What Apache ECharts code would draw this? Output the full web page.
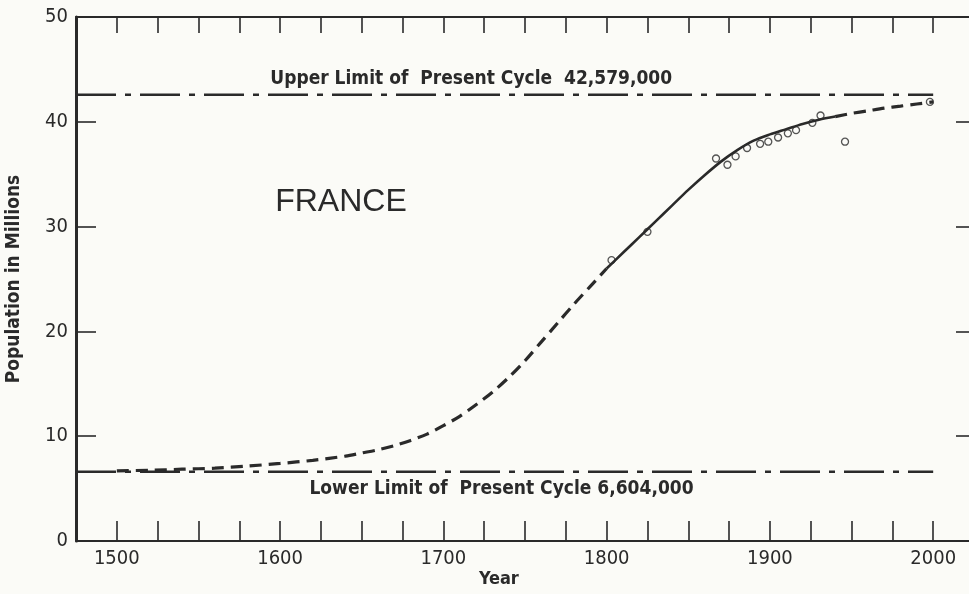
<!DOCTYPE html>
<html>
<head>
<meta charset="utf-8">
<script src="https://cdn.jsdelivr.net/npm/echarts@6/dist/echarts.min.js"></script>
<style>
  html, body { margin: 0; padding: 0; background: #fbfbf7; }
  #chart { width: 969px; height: 594px; }
</style>
</head>
<body>
<div id="chart"></div>
<script>
// Logistic population cycle for France, limits in millions
const upperLimit = 42.579;
const lowerLimit = 6.604;
const limitYears = [1475, 2000];

// Extrapolated (dashed) early part of the curve
const earlyYears = [1500, 1520, 1540, 1560, 1580, 1600, 1620, 1640, 1650, 1660, 1670, 1680, 1690,
                    1700, 1710, 1720, 1730, 1740, 1750, 1760, 1770, 1780, 1790, 1800];
const earlyPop   = [6.7, 6.75, 6.85, 6.95, 7.15, 7.4, 7.7, 8.1, 8.4, 8.7, 9.1, 9.6, 10.2,
                    11.0, 11.9, 13.0, 14.2, 15.6, 17.2, 19.0, 20.8, 22.6, 24.3, 26.0];

// Fitted (solid) part over the census period
const fittedYears = [1800, 1810, 1820, 1830, 1840, 1850, 1860, 1870, 1880, 1890, 1900, 1910, 1920, 1930, 1940];
const fittedPop   = [26.0, 27.5, 29.0, 30.5, 32.0, 33.5, 34.9, 36.2, 37.3, 38.2, 38.8, 39.3, 39.8, 40.2, 40.5];

// Extrapolated (dashed) late part
const lateYears = [1940, 1950, 1960, 1970, 1980, 1990, 2000];
const latePop   = [40.5, 40.8, 41.05, 41.3, 41.5, 41.7, 41.9];

// Census observations
const censusYears = [1803, 1825, 1867, 1874, 1879, 1886, 1894, 1899, 1905, 1911, 1916, 1926, 1931, 1946, 1998];
const censusPop   = [26.8, 29.5, 36.5, 35.9, 36.7, 37.5, 37.9, 38.1, 38.5, 38.9, 39.2, 39.9, 40.6, 38.1, 41.9];

const xTickLabels = ['1500', '1600', '1700', '1800', '1900', '2000'];
const yTickLabels = ['0', '10', '20', '30', '40', '50'];

const upperText = 'Upper Limit of  Present Cycle  42,579,000';
const lowerText = 'Lower Limit of  Present Cycle 6,604,000';
const countryText = 'FRANCE';
const xName = 'Year';
const yName = 'Population in Millions';

const FONT = "'DejaVu Sans Condensed', 'Liberation Sans', sans-serif";
const INK = '#2a2a2a';
const PAPER = '#fbfbf7';

const pairs = (xs, ys) => xs.map((x, i) => [x, ys[i]]);

const chart = echarts.init(document.getElementById('chart'), null, { renderer: 'canvas' });

const tickAxisX = (pos, len, showLabel) => ({
  type: 'value', position: pos, min: 1475, max: 2025, interval: 25,
  axisLine: { show: true, onZero: false, lineStyle: { color: INK, width: 2 } },
  axisTick: { show: true, inside: true, length: len, lineStyle: { color: INK, width: 1.6 } },
  axisLabel: {
    show: showLabel, margin: 8, color: INK, fontFamily: FONT, fontSize: 20,
    formatter: v => (xTickLabels.includes(String(v)) ? String(v) : '')
  },
  splitLine: { show: false }
});

const curveLine = (name, xs, ys, lineStyle) => ({
  name, type: 'line', data: pairs(xs, ys), smooth: 0.3,
  symbol: 'none', lineStyle
});

chart.setOption({
  backgroundColor: PAPER,
  animation: false,
  // plot box runs slightly past the right edge of the page
  grid: { left: 76, top: 17, width: 898, height: 524, containLabel: false, outerBoundsMode: 'none' },
  xAxis: [tickAxisX('bottom', 20, true), tickAxisX('top', 16, false)],
  yAxis: [
    {
      type: 'value', min: 0, max: 50, interval: 10, position: 'left',
      axisLine: { show: true, lineStyle: { color: INK, width: 3 } },
      axisTick: { show: true, inside: true, length: 20, lineStyle: { color: INK, width: 1.6 } },
      axisLabel: {
        margin: 8, color: INK, fontFamily: FONT, fontSize: 20,
        formatter: v => (yTickLabels.includes(String(v)) ? String(v) : '')
      },
      splitLine: { show: false },
      name: yName, nameLocation: 'middle', nameGap: 52, nameRotate: 90,
      nameTextStyle: { color: INK, fontFamily: FONT, fontSize: 19, fontWeight: 'bold' }
    },
    {
      type: 'value', min: 0, max: 50, interval: 10, position: 'right',
      axisLine: { show: true, lineStyle: { color: INK, width: 2 } },
      axisTick: { show: true, inside: true, length: 18, lineStyle: { color: INK, width: 1.6 } },
      axisLabel: { show: false },
      splitLine: { show: false }
    }
  ],
  series: [
    {
      name: 'upper', type: 'line', data: pairs(limitYears, [upperLimit, upperLimit]),
      symbol: 'none', lineStyle: { color: INK, width: 2.5, type: [40, 9, 6, 9] }
    },
    {
      name: 'lower', type: 'line', data: pairs(limitYears, [lowerLimit, lowerLimit]),
      symbol: 'none', lineStyle: { color: INK, width: 2.5, type: [40, 9, 6, 9] }
    },
    curveLine('early', earlyYears, earlyPop, { color: INK, width: 3.2, type: [12, 7] }),
    curveLine('fitted', fittedYears, fittedPop, { color: INK, width: 2.6, type: 'solid' }),
    curveLine('late', lateYears, latePop, { color: INK, width: 3.2, type: [12, 7] }),
    {
      name: 'census', type: 'scatter', data: pairs(censusYears, censusPop),
      symbol: 'circle', symbolSize: 7,
      itemStyle: { color: PAPER, borderColor: INK, borderWidth: 1.3 }
    }
  ]
});

// Text annotations anchored to data coordinates
const at = (x, y) => chart.convertToPixel({ xAxisIndex: 0, yAxisIndex: 0 }, [x, y]);
const pU = at(1594, upperLimit);
const pL = at(1618, lowerLimit);
const pF = at(1597, 32.3);
const pY = at(1734, 0);

chart.setOption({
  graphic: [
    { type: 'text', x: pU[0], y: pU[1] - 6,
      style: { text: upperText, fill: INK, font: "bold 19px " + FONT, textVerticalAlign: 'bottom' } },
    { type: 'text', x: pL[0], y: pL[1] + 8,
      style: { text: lowerText, fill: INK, font: "bold 19px " + FONT, textVerticalAlign: 'top' } },
    { type: 'text', x: pF[0], y: pF[1],
      style: { text: countryText, fill: INK, font: "32px 'Liberation Sans', sans-serif", textVerticalAlign: 'middle' } },
    { type: 'text', x: pY[0], y: pY[1] + 29,
      style: { text: xName, fill: INK, font: "bold 18px " + FONT, textAlign: 'center', textVerticalAlign: 'top' } }
  ]
});
</script>
</body>
</html>
